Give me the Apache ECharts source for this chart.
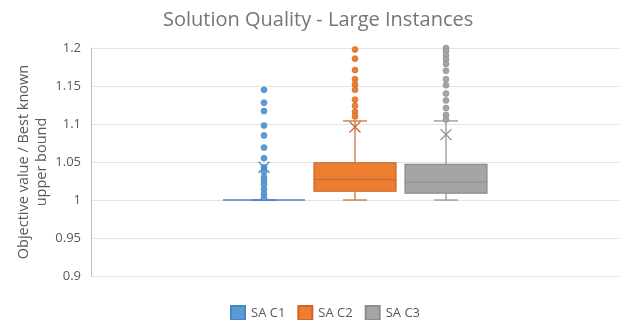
<!DOCTYPE html>
<html>
<head>
<meta charset="utf-8">
<script src="https://cdn.jsdelivr.net/npm/echarts@6/dist/echarts.min.js"></script>
<style>
  html, body { margin: 0; padding: 0; background: #fff; }
  #chart { width: 619px; height: 320px; }
</style>
</head>
<body>
<div id="chart"></div>
<script>
// Five-number summaries per configuration: [min whisker, Q1, median, Q3, max whisker]
const seriesNames = ['SA C1', 'SA C2', 'SA C3'];
const boxC1 = [1.0, 1.0, 1.0, 1.0, 1.0];
const boxC2 = [1.0, 1.0115, 1.027, 1.049, 1.104];
const boxC3 = [1.0, 1.009, 1.0237, 1.047, 1.104];
const meanValues = [1.043, 1.096, 1.086];
const outliersC1 = [1.145, 1.128, 1.117, 1.098, 1.085, 1.069, 1.055, 1.043, 1.037, 1.030, 1.025, 1.020, 1.014, 1.008, 1.003];
const outliersC2 = [1.198, 1.186, 1.171, 1.159, 1.152, 1.145, 1.132, 1.124, 1.116, 1.110];
const outliersC3 = [1.200, 1.196, 1.190, 1.185, 1.179, 1.170, 1.159, 1.151, 1.140, 1.131, 1.121, 1.112, 1.106];
const yTicks = { min: 0.9, max: 1.2, step: 0.05 };
const category = ['Large Instances'];

const boxes = [boxC1, boxC2, boxC3];
const outliers = [outliersC1, outliersC2, outliersC3];

const fills = ['#5B9BD5', '#ED7D31', '#A5A5A5'];
const strokes = ['#4A86C0', '#C9682A', '#8C8C8C'];
const slotOffset = [-91, 0, 91]; // horizontal placement of each box within the category band
const boxWidth = 82;
const capWidth = 24;
const FONT = '"Open Sans", "Liberation Sans", sans-serif';

function boxRenderer(idx) {
  return function (params, api) {
    const cx = api.coord([0, 0])[0] + slotOffset[idx];
    const py = v => api.coord([0, v])[1];
    const lo = py(api.value(1)), q1 = py(api.value(2)), med = py(api.value(3));
    const q3 = py(api.value(4)), hi = py(api.value(5));
    const line = { stroke: strokes[idx], lineWidth: 1.2 };
    const half = boxWidth / 2, ch = capWidth / 2;
    return {
      type: 'group',
      children: [
        { type: 'line', shape: { x1: cx, y1: q3, x2: cx, y2: hi }, style: line },
        { type: 'line', shape: { x1: cx, y1: q1, x2: cx, y2: lo }, style: line },
        { type: 'line', shape: { x1: cx - ch, y1: hi, x2: cx + ch, y2: hi }, style: line },
        { type: 'line', shape: { x1: cx - ch, y1: lo, x2: cx + ch, y2: lo }, style: line },
        { type: 'rect', shape: { x: cx - half, y: q3, width: boxWidth, height: q1 - q3 },
          style: { fill: fills[idx], stroke: strokes[idx], lineWidth: 1.2 } },
        { type: 'line', shape: { x1: cx - half, y1: med, x2: cx + half, y2: med },
          style: { stroke: strokes[idx], lineWidth: 1.2 } }
      ]
    };
  };
}

const series = [];
seriesNames.forEach((name, i) => {
  series.push({
    name: name,
    type: 'custom',
    renderItem: boxRenderer(i),
    itemStyle: { color: fills[i], borderColor: strokes[i], borderWidth: 1 },
    encode: { x: 0, y: [1, 2, 3, 4, 5] },
    data: [[0].concat(boxes[i])],
    z: 2
  });
  series.push({
    name: name,
    type: 'scatter',
    symbol: 'circle',
    symbolSize: 6,
    symbolOffset: [slotOffset[i], 0],
    itemStyle: { color: fills[i], borderColor: strokes[i], borderWidth: 0.6, opacity: 1 },
    data: outliers[i].map(v => [0, v]),
    z: 4
  });
  series.push({
    name: name,
    type: 'scatter',
    symbol: 'path://M0,0L10,10M10,0L0,10',
    symbolSize: 11,
    symbolOffset: [slotOffset[i], 0],
    itemStyle: { color: 'rgba(0,0,0,0)', borderColor: strokes[i], borderWidth: 1.3, opacity: 1 },
    data: [[0, meanValues[i]]],
    z: 5
  });
});

const chart = echarts.init(document.getElementById('chart'), null, { renderer: 'canvas' });
chart.setOption({
  animation: false,
  backgroundColor: '#fff',
  title: {
    text: 'Solution Quality - Large Instances',
    left: 158,
    top: 5,
    textStyle: { fontFamily: FONT, fontSize: 20, fontWeight: 'normal', color: '#757575' }
  },
  legend: {
    bottom: -6,
    left: 225,
    itemWidth: 14,
    itemHeight: 14,
    itemGap: 12,
    icon: 'rect',
    data: seriesNames,
    textStyle: { fontFamily: FONT, fontSize: 13, color: '#595959', padding: [0, 0, 0, 1] }
  },
  grid: { left: 91, right: 0, top: 48, bottom: 44 },
  xAxis: {
    type: 'category',
    data: category,
    axisLine: { show: false },
    axisTick: { show: false },
    axisLabel: { show: false },
    splitLine: { show: false }
  },
  yAxis: {
    type: 'value',
    min: yTicks.min,
    max: yTicks.max,
    interval: yTicks.step,
    name: 'Objective value / Best known\nupper bound',
    nameLocation: 'middle',
    nameGap: 40,
    nameMoveOverlap: false,
    nameTextStyle: { fontFamily: FONT, fontSize: 14.5, color: '#595959', lineHeight: 18 },
    axisLine: { show: true, lineStyle: { color: '#BFBFBF', width: 1 } },
    axisTick: { show: false },
    axisLabel: { fontFamily: FONT, fontSize: 13, color: '#595959', margin: 10 },
    splitLine: { lineStyle: { color: '#E3E3E3', width: 1 } }
  },
  series: series
});
</script>
</body>
</html>
